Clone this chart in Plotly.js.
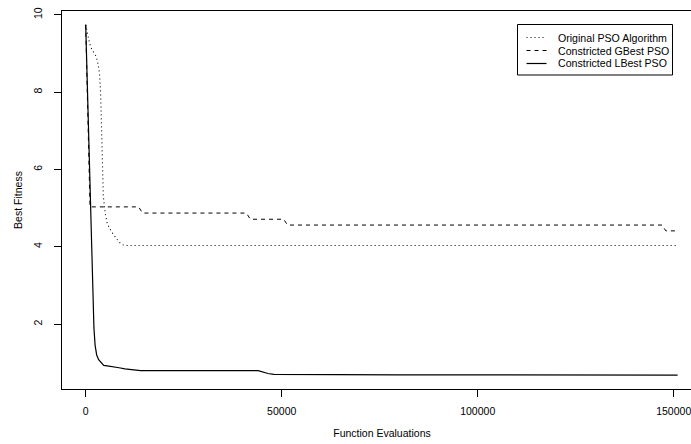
<!DOCTYPE html>
<html>
<head>
<meta charset="utf-8">
<script src="https://cdn.plot.ly/plotly-3.0.1.min.js"></script>
<style>
html, body { margin: 0; padding: 0; overflow: hidden; background: #fff; }
#chart { width: 710px; height: 444px; }
</style>
</head>
<body>
<div id="chart"></div>
<script>
// Original PSO Algorithm (dotted)
const origX = [0, 500, 1000, 1500, 2000, 2500, 3000, 3500, 3800, 4000, 4200, 4500, 5000, 5500, 6500, 7500, 8500, 9500, 10500, 151000];
const origY = [9.74, 9.45, 9.25, 9.12, 9.05, 8.95, 8.8, 8.5, 8.0, 7.2, 6.4, 5.3, 4.85, 4.6, 4.4, 4.25, 4.12, 4.05, 4.03, 4.03];

// Constricted GBest PSO (dashed)
const gbestX = [0, 1100, 13500, 14500, 41000, 42000, 50500, 51500, 147000, 148000, 151000];
const gbestY = [9.74, 5.03, 5.03, 4.87, 4.87, 4.71, 4.71, 4.56, 4.56, 4.41, 4.41];

// Constricted LBest PSO (solid)
const lbestX = [0, 300, 600, 900, 1200, 1500, 1800, 2100, 2400, 2800, 3300, 4000, 4600, 5500, 7000, 8500, 10000, 12000, 14000, 44000, 45000, 46500, 48000, 75000, 80000, 151000];
const lbestY = [9.74, 8.6, 7.3, 6.0, 4.8, 3.7, 2.7, 1.9, 1.45, 1.2, 1.08, 1.0, 0.93, 0.92, 0.9, 0.87, 0.84, 0.81, 0.795, 0.795, 0.76, 0.72, 0.70, 0.70, 0.685, 0.68];

const seriesNames = ["Original PSO Algorithm", "Constricted GBest PSO", "Constricted LBest PSO"];
const seriesDash = ["1px,3px", "4px,4px", "solid"];
const xTicks = [0, 50000, 100000, 150000];
const yTicks = [2, 4, 6, 8, 10];

const FONT = "Liberation Sans, Arial, Helvetica, sans-serif";

const traces = [
  { x: origX, y: origY, name: seriesNames[0], mode: "lines", showlegend: false,
    line: { color: "#000", width: 1.1, dash: seriesDash[0] } },
  { x: gbestX, y: gbestY, name: seriesNames[1], mode: "lines", showlegend: false,
    line: { color: "#000", width: 1, dash: seriesDash[1] } },
  { x: lbestX, y: lbestY, name: seriesNames[2], mode: "lines", showlegend: false,
    line: { color: "#000", width: 1.2 } }
];

// Legend drawn in paper coordinates (plot area: px 62..702 horizontally, 11..389 vertically)
const W = 640, H = 378, L = 62, B = 389;
const px = v => (v - L) / W;
const py = v => (B - v) / H;
const shapes = [
  { type: "rect", xref: "paper", yref: "paper",
    x0: px(517.5), x1: px(672.5), y0: py(75), y1: py(24.5),
    line: { color: "#000", width: 1 }, fillcolor: "#fff", layer: "above" }
];
const annotations = [];
const rowY = [37.5, 50.5, 63.5];
seriesNames.forEach((n, i) => {
  shapes.push({ type: "line", xref: "paper", yref: "paper",
    x0: px(526.5), x1: px(546.5), y0: py(rowY[i]), y1: py(rowY[i]),
    line: { color: "#000", width: i === 2 ? 1.2 : 1, dash: seriesDash[i] }, layer: "above" });
  annotations.push({ xref: "paper", yref: "paper", x: px(556), y: py(rowY[i]),
    xanchor: "left", yanchor: "middle", showarrow: false, text: n,
    font: { family: FONT, size: 10.6, color: "#000" } });
});

const layout = {
  width: 710, height: 444,
  margin: { l: 62, r: 8, t: 11, b: 55 },
  paper_bgcolor: "#fff", plot_bgcolor: "#fff",
  font: { family: FONT, size: 10.5, color: "#000" },
  showlegend: false,
  shapes: shapes,
  annotations: annotations,
  xaxis: {
    range: [-6046, 157219],
    tickvals: xTicks, ticktext: xTicks.map(String),
    ticks: "outside", ticklen: 7, tickwidth: 1, tickcolor: "#000",
    showline: true, linecolor: "#000", linewidth: 1, mirror: true,
    showgrid: false, zeroline: false,
    tickfont: { family: FONT, size: 10.5, color: "#000" },
    ticklabelstandoff: 5,
    title: { text: "Function Evaluations", font: { family: FONT, size: 10.5, color: "#000" }, standoff: 14 }
  },
  yaxis: {
    range: [0.32, 10.096],
    tickvals: yTicks, ticktext: yTicks.map(String),
    ticks: "outside", ticklen: 7, tickwidth: 1, tickcolor: "#000",
    tickangle: -90,
    showline: true, linecolor: "#000", linewidth: 1, mirror: true,
    showgrid: false, zeroline: false,
    tickfont: { family: FONT, size: 10.5, color: "#000" },
    ticklabelstandoff: 8,
    title: { text: "Best Fitness", font: { family: FONT, size: 10.5, color: "#000" }, standoff: 7 }
  }
};

Plotly.newPlot("chart", traces, layout, { displayModeBar: false, staticPlot: true });
</script>
</body>
</html>
